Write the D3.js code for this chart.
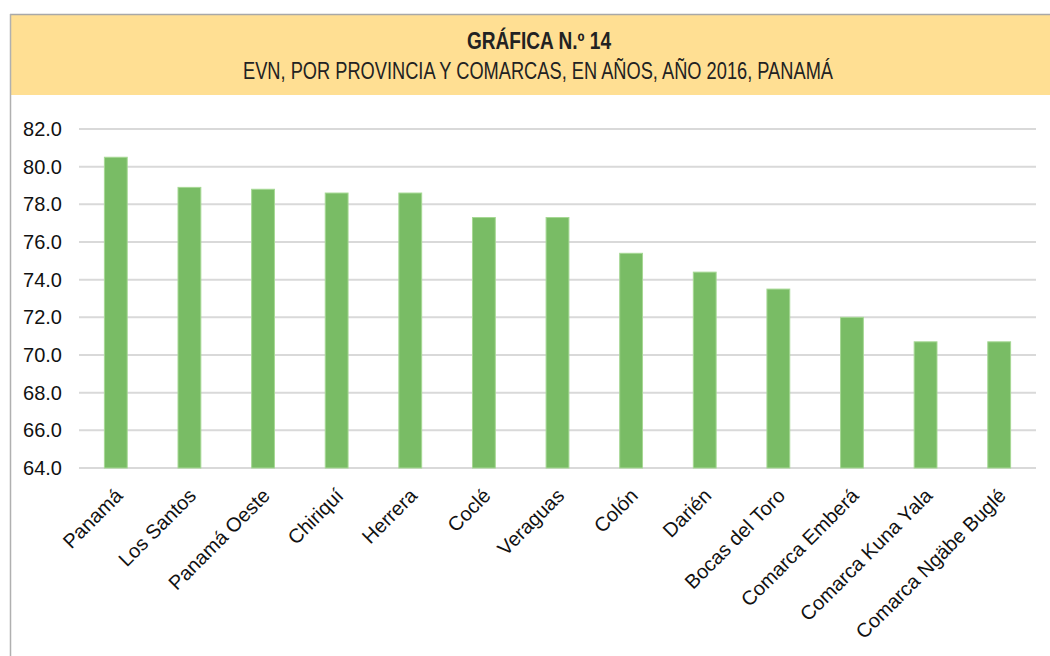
<!DOCTYPE html>
<html>
<head>
<meta charset="utf-8">
<script src="https://cdn.jsdelivr.net/npm/d3@7"></script>
<style>
  body { margin: 0; background: #fff; }
  svg { display: block; }
</style>
</head>
<body>
<svg id="chart"></svg>
<script>
const width = 1050, height = 656;

// data
const regions = ["Panamá", "Los Santos", "Panamá Oeste", "Chiriquí", "Herrera", "Coclé",
    "Veraguas", "Colón", "Darién", "Bocas del Toro", "Comarca Emberá",
    "Comarca Kuna Yala", "Comarca Ngäbe Buglé"];
const evn = [80.5, 78.9, 78.8, 78.6, 78.6, 77.3, 77.3, 75.4, 74.4, 73.5, 72.0, 70.7, 70.7];
const yTicks = [64, 66, 68, 70, 72, 74, 76, 78, 80, 82];

const titleText = "GRÁFICA N.º 14";
const subtitleText = "EVN, POR PROVINCIA Y COMARCAS, EN AÑOS, AÑO 2016, PANAMÁ";

const svg = d3.select("#chart")
    .attr("width", width)
    .attr("height", height);

//header band and frame
svg.append("rect")
    .attr("x", 10).attr("y", 14)
    .attr("width", width).attr("height", 81)
    .attr("fill", "#ffdf93");
svg.append("line")
    .attr("x1", 10).attr("x2", width)
    .attr("y1", 14.5).attr("y2", 14.5)
    .attr("stroke", "#a8a8a8").attr("stroke-width", 1.5);
svg.append("line")
    .attr("x1", 10.5).attr("x2", 10.5)
    .attr("y1", 14).attr("y2", height)
    .attr("stroke", "#b0b0b0").attr("stroke-width", 1.5);

//titles are condensed in the original, so squeeze them
svg.append("text")
    .attr("x", 539).attr("y", 49)
    .attr("text-anchor", "middle")
    .attr("textLength", 144)
    .attr("lengthAdjust", "spacingAndGlyphs")
    .style("font-family", "'Liberation Sans', Arial, sans-serif")
    .style("font-weight", "bold")
    .style("font-size", "23px")
    .style("fill", "#222")
    .text(titleText);

svg.append("text")
    .attr("x", 538).attr("y", 79)
    .attr("text-anchor", "middle")
    .attr("textLength", 590)
    .attr("lengthAdjust", "spacingAndGlyphs")
    .style("font-family", "'Liberation Sans', Arial, sans-serif")
    .style("font-size", "23px")
    .style("fill", "#222")
    .text(subtitleText);

//plot area
const plot = { left: 79, right: 1036, top: 129, bottom: 468 };

const x = d3.scaleBand()
    .domain(regions)
    .range([plot.left, plot.right])
    .paddingInner(0.69)
    .paddingOuter(0.345);

const y = d3.scaleLinear()
    .domain([64, 82])
    .range([plot.bottom, plot.top]);

//gridlines
svg.append("g")
    .selectAll("line")
    .data(yTicks)
    .join("line")
    .attr("x1", plot.left).attr("x2", plot.right)
    .attr("y1", d => y(d)).attr("y2", d => y(d))
    .attr("stroke", "#d9d9d9")
    .attr("stroke-width", 2);

//y axis labels
const yAxis = d3.axisLeft(y)
    .tickValues(yTicks)
    .tickFormat(d3.format(".1f"))
    .tickSize(0)
    .tickPadding(0);

svg.append("g")
    .attr("transform", `translate(62,0)`)
    .call(yAxis)
    .call(g => g.select(".domain").remove())
    .selectAll("text")
    .style("font-family", "'Liberation Sans', Arial, sans-serif")
    .style("font-size", "20px")
    .style("fill", "#111");

//bars
svg.append("g")
    .selectAll("rect")
    .data(evn)
    .join("rect")
    .attr("x", (d, i) => x(regions[i]))
    .attr("y", d => y(d))
    .attr("width", x.bandwidth())
    .attr("height", d => y(64) - y(d))
    .attr("fill", "#79bc65")
    .attr("stroke", "#a6d894")
    .attr("stroke-width", 1);

//x labels, rotated
const xAxis = d3.axisBottom(x).tickSize(0).tickPadding(0);
svg.append("g")
    .attr("transform", `translate(0,${plot.bottom})`)
    .call(xAxis)
    .call(g => g.select(".domain").remove())
    .selectAll("text")
    .attr("text-anchor", "end")
    .attr("dy", 0)
    .attr("transform", "translate(8,29) rotate(-45)")
    .style("font-family", "'Liberation Sans', Arial, sans-serif")
    .style("font-size", "20px")
    .style("fill", "#111");
</script>
</body>
</html>
